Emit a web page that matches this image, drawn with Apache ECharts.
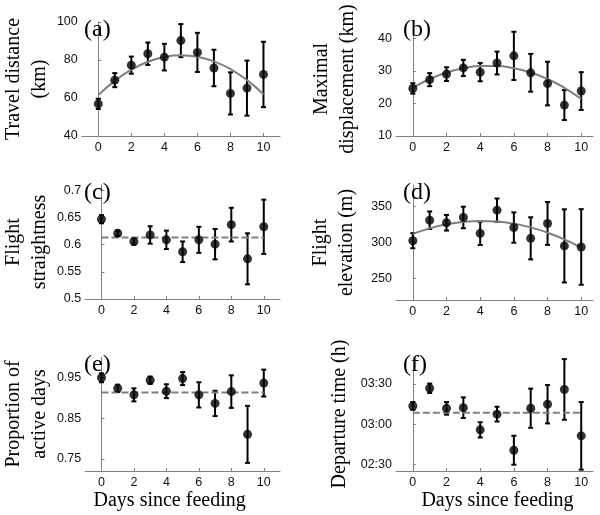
<!DOCTYPE html>
<html>
<head>
<meta charset="utf-8">
<script src="https://cdn.jsdelivr.net/npm/echarts@6/dist/echarts.min.js"></script>
<style>html,body{margin:0;padding:0;background:#fff}#c{width:600px;height:515px}</style>
</head>
<body>
<div id="c"></div>
<script>
// ---- data ----
const days = [0, 1, 2, 3, 4, 5, 6, 7, 8, 9, 10];
const xTicks = [0, 2, 4, 6, 8, 10];

const distMean = [56.9, 69.4, 77.3, 83.3, 81.5, 90.2, 84.0, 75.8, 62.4, 65.2, 72.4];
const distErr  = [2.7, 3.7, 4.5, 5.9, 7.0, 8.7, 10.3, 9.6, 11.1, 14.5, 17.2];
const distFit  = [61.5, 69.0, 74.9, 79.1, 81.6, 82.5, 81.7, 79.3, 75.2, 69.4, 62.0];
const distTicks = [40, 60, 80, 100];

const dispMean = [24.6, 27.3, 29.0, 30.9, 29.6, 32.4, 34.6, 29.4, 26.1, 19.5, 23.8];
const dispErr  = [1.6, 2.0, 2.1, 2.5, 2.8, 3.5, 7.4, 5.8, 6.7, 4.6, 5.8];
const dispFit  = [24.8, 27.5, 29.5, 30.8, 31.5, 31.5, 30.8, 29.5, 27.5, 24.8, 21.4];
const dispTicks = [10, 20, 30, 40];

const straightMean = [0.647, 0.621, 0.606, 0.618, 0.609, 0.587, 0.609, 0.601, 0.637, 0.574, 0.633];
const straightErr  = [0.0075, 0.005, 0.006, 0.016, 0.017, 0.019, 0.024, 0.028, 0.031, 0.047, 0.05];
const straightAvg  = 0.6135;
const straightTicks = [0.5, 0.55, 0.6, 0.65, 0.7];

const elevMean = [302.5, 331, 327.5, 334.8, 312.7, 345, 320.8, 305.8, 326.5, 295.3, 293.8];
const elevErr  = [10.5, 12.2, 10.9, 15, 16.2, 16.2, 21.1, 29.3, 29.8, 50.9, 52.6];
const elevFit  = [312, 319.7, 325.3, 328.7, 330, 329.1, 326.1, 321, 313.7, 304.3, 292.7];
const elevTicks = [250, 300, 350];

const activeMean = [0.949, 0.923, 0.907, 0.943, 0.916, 0.947, 0.907, 0.886, 0.915, 0.81, 0.936];
const activeErr  = [0.011, 0.009, 0.016, 0.009, 0.017, 0.016, 0.031, 0.031, 0.04, 0.07, 0.033];
const activeAvg  = 0.913;
const activeTicks = [0.75, 0.85, 0.95];

// departure time in minutes after midnight
const departMean = [193.5, 206.7, 191.7, 192.2, 175.7, 187.4, 160.5, 191.8, 194.8, 205.8, 171.2];
const departErr  = [2.9, 3.5, 4.7, 7.7, 5.7, 5.5, 10.8, 14.6, 14.3, 22.6, 25.2];
const departAvg  = 188.4;
const departTicks = [150, 180, 210];

// ---- chart ----
const SANS = "'Liberation Sans', Arial, sans-serif";
const SERIF = "'Liberation Serif', 'Times New Roman', serif";
const AXC = '#808080';

const panels = [
  {lab:'(a)', mean:distMean, err:distErr, fit:distFit, ticks:distTicks, min:40, max:100, name:'Travel distance\n(km)', gap:26,
   grid:{left:77, top:22, width:203, height:114}, xmax:11},
  {lab:'(b)', mean:dispMean, err:dispErr, fit:dispFit, ticks:dispTicks, min:10, max:45, name:'Maximal\ndisplacement (km)', gap:35,
   grid:{left:396, top:22, width:197, height:114}, xmax:10.7},
  {lab:'(c)', mean:straightMean, err:straightErr, avg:straightAvg, ticks:straightTicks, min:0.5, max:0.71, name:'Flight\nstraightness', gap:26,
   grid:{left:77, top:185, width:203, height:114}, xmax:11},
  {lab:'(d)', mean:elevMean, err:elevErr, fit:elevFit, ticks:elevTicks, min:220, max:380, name:'Flight\nelevation (m)', gap:36,
   grid:{left:396, top:185, width:197, height:115}, xmax:10.7},
  {lab:'(e)', mean:activeMean, err:activeErr, avg:activeAvg, ticks:activeTicks, min:0.72, max:1.0, name:'Proportion of\nactive days', gap:28,
   grid:{left:77, top:357, width:203, height:114}, xmax:11, xname:true, xpad:[0,26,0,0]},
  {lab:'(f)', mean:departMean, err:departErr, avg:departAvg, ticks:departTicks, min:145, max:230, name:'Departure time (h)', gap:43,
   grid:{left:396, top:357, width:197, height:114}, xmax:10.7, xname:true, xpad:[0,0,0,6],
   fmt: v => { const h = Math.floor(v/60), m = Math.round(v%60); return String(h).padStart(2,'0') + ':' + String(m).padStart(2,'0'); }}
];

function renderErr(params, api) {
  const x = api.value(0), y = api.value(1), e = api.value(2);
  const t = api.coord([x, y + e]), b = api.coord([x, y - e]);
  const hw = 2.5;
  const st = {stroke:'#000', lineWidth:2};
  return {type:'group', children:[
    {type:'line', shape:{x1:t[0], y1:t[1], x2:b[0], y2:b[1]}, style:st},
    {type:'line', shape:{x1:t[0]-hw, y1:t[1], x2:t[0]+hw, y2:t[1]}, style:st},
    {type:'line', shape:{x1:b[0]-hw, y1:b[1], x2:b[0]+hw, y2:b[1]}, style:st}
  ]};
}

const option = {animation:false, backgroundColor:'#fff', grid:[], xAxis:[], yAxis:[], series:[], title:[]};

panels.forEach((p, i) => {
  option.grid.push(Object.assign({containLabel:false}, p.grid));
  option.title.push({text:p.lab, left:p.grid.left + 7, top:p.grid.top - 4, padding:0,
    textStyle:{fontFamily:SERIF, fontSize:24, fontWeight:'normal', color:'#000'}});
  option.xAxis.push({
    type:'value', gridIndex:i, min:-1, max:p.xmax,
    axisLine:{lineStyle:{color:AXC, width:1}},
    axisTick:{inside:true, length:3, lineStyle:{color:AXC}, customValues:xTicks},
    axisLabel:{customValues:xTicks, color:'#111', fontFamily:SANS, fontSize:12.5, margin:5},
    splitLine:{show:false},
    name: p.xname ? 'Days since feeding' : '',
    nameLocation:'middle', nameGap:20,
    nameTextStyle:{fontFamily:SERIF, fontSize:20, color:'#000', padding:p.xpad || 0}
  });
  option.yAxis.push({
    type:'value', gridIndex:i, min:p.min, max:p.max,
    axisLine:{show:true, lineStyle:{color:AXC, width:1}},
    axisTick:{show:true, inside:true, length:3, lineStyle:{color:AXC}, customValues:p.ticks},
    axisLabel:{customValues:p.ticks, color:'#111', fontFamily:SANS, fontSize:12.5, margin:4,
      formatter: p.fmt ? p.fmt : (v => String(v))},
    splitLine:{show:false},
    name:p.name, nameLocation:'middle', nameRotate:90, nameGap:p.gap,
    nameTextStyle:{fontFamily:SERIF, fontSize:20, lineHeight:26, color:'#000'}
  });
  option.series.push({
    type:'custom', xAxisIndex:i, yAxisIndex:i, renderItem:renderErr,
    encode:{x:0, y:1}, z:2,
    data: days.map((d, k) => [d, p.mean[k], p.err[k]])
  });
  if (p.fit) {
    option.series.push({
      type:'line', xAxisIndex:i, yAxisIndex:i, smooth:true, showSymbol:false, z:3,
      lineStyle:{color:'#7f7f7f', width:2},
      data: days.map((d, k) => [d, p.fit[k]])
    });
  }
  if (p.avg !== undefined) {
    option.series.push({
      type:'line', xAxisIndex:i, yAxisIndex:i, showSymbol:false, z:3,
      lineStyle:{color:'#7f7f7f', width:2, type:[7,3]},
      data: [[days[0], p.avg], [days[days.length-1], p.avg]]
    });
  }
  option.series.push({
    type:'scatter', xAxisIndex:i, yAxisIndex:i, symbol:'circle', symbolSize:9, z:4,
    itemStyle:{color:'#000'},
    data: days.map((d, k) => [d, p.mean[k]])
  });
});

const chart = echarts.init(document.getElementById('c'), null, {renderer:'canvas'});
chart.setOption(option);
</script>
</body>
</html>
